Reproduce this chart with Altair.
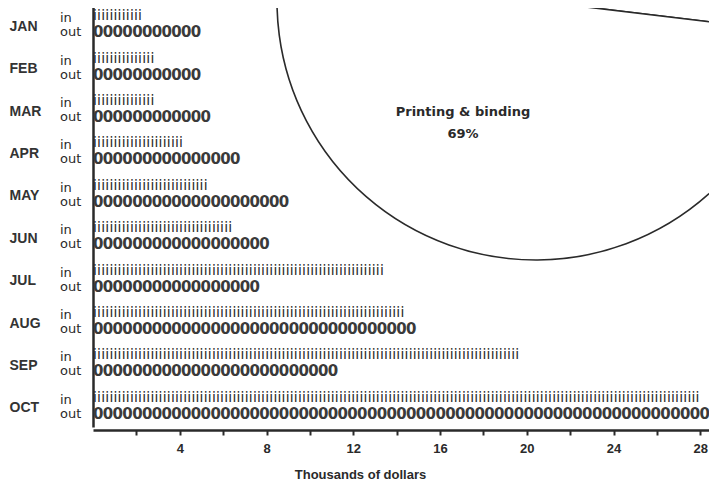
import altair as alt
import pandas as pd

# ---- data (thousands of dollars) ----
months = ["JAN", "FEB", "MAR", "APR", "MAY", "JUN", "JUL", "AUG", "SEP", "OCT"]
money_in = [2.3, 2.8, 2.8, 4.1, 5.2, 6.35, 13.4, 14.45, 19.65, 27.9]
money_out = [5.05, 5.0, 5.4, 6.8, 9.0, 8.15, 7.65, 14.85, 11.3, 29.0]
x_ticks = [2, 4, 6, 8, 10, 12, 14, 16, 18, 20, 22, 24, 26, 28]

# pie (only the lower part is visible in the picture)
slice_names = ["Segment A", "Segment B", "Segment C", "Segment D", "Printing & binding", "Segment E"]
slice_pct = [14, 11, 0.5, 1.4, 69, 4.1]
slice_fill = ["white", "white", "#1e1e1e", "white", "white", "white"]

INK = "#2a2a2a"
SANS = "Liberation Sans"

bars = pd.DataFrame({"month": months, "in": money_in, "out": money_out})
pie = pd.DataFrame({"segment": slice_names, "share": slice_pct,
                    "rank": list(range(len(slice_names)))})

x_scale = alt.Scale(domain=[0, 28.4], nice=False, zero=True)
y_scale = alt.Scale(domain=months, range=[-5, 419], paddingInner=0, paddingOuter=0)

x_axis = alt.Axis(values=x_ticks, labelExpr="datum.value % 4 == 0 ? datum.label : ''",
                  tickSize=5, tickWidth=2, tickColor=INK, domainColor=INK, domainWidth=2.5,
                  labelFont=SANS, labelFontWeight="bold", labelFontSize=13, labelColor=INK,
                  labelPadding=7, grid=False, title="Thousands of dollars",
                  titleFont=SANS, titleFontSize=13, titleFontWeight="bold", titleColor=INK,
                  titleX=267, titleY=48, titleAlign="center", titleBaseline="alphabetic")
y_axis = alt.Axis(title=None, ticks=False, tickSize=0, labelAlign="left", labelPadding=84,
                  labelOffset=2, labelFont=SANS, labelFontWeight="bold", labelFontSize=14,
                  labelColor="#333333", domainColor=INK, domainWidth=2.5, grid=False,
                  labelBaseline="middle")

Y = alt.Y("month:N", sort=months, scale=y_scale, axis=y_axis)


def glyphs(series, char, step, size, weight, dy, color):
    return alt.Chart(bars).transform_calculate(
        pos=f"sequence(0, datum['{series}'] - {step / 2}, {step})"
    ).transform_flatten(["pos"]).mark_text(
        text=char, align="left", baseline="middle", dy=dy, fontSize=size,
        font="DejaVu Sans", fontWeight=weight, color=color, clip=False
    ).encode(
        x=alt.X("pos:Q", scale=x_scale, axis=x_axis),
        y=Y,
    )


in_glyphs = glyphs("in", "i", 0.189, 14, "normal", -8, INK)
out_glyphs = glyphs("out", "0", 0.451, 15, "bold", 8, "#3a3a3a")


def row_label(word, dy):
    return alt.Chart(bars).mark_text(
        text=word, align="left", baseline="middle", dy=dy, fontSize=13,
        font="DejaVu Sans", color=INK
    ).encode(x=alt.value(-33), y=Y)


in_labels = row_label("in", -6)
out_labels = row_label("out", 8)

pie_layer = alt.Chart(pie).mark_arc(outerRadius=259, stroke=INK, strokeWidth=1.6).encode(
    theta=alt.Theta("share:Q", stack=True),
    order=alt.Order("rank:Q"),
    fill=alt.Fill("segment:N", scale=alt.Scale(domain=slice_names, range=slice_fill), legend=None),
    x=alt.value(443),
    y=alt.value(-7),
)

pie_label = alt.Chart(pie).transform_filter(
    "datum.segment == 'Printing & binding'"
).transform_calculate(
    label="datum.segment + '\\n' + datum.share + '%'"
).mark_text(
    align="center", baseline="middle", lineBreak="\n", lineHeight=22,
    font="DejaVu Sans", fontWeight="bold", fontSize=13, color=INK
).encode(text="label:N", x=alt.value(370), y=alt.value(104))

chart = alt.layer(
    pie_layer, pie_label, in_glyphs, out_glyphs, in_labels, out_labels
).properties(
    width=616, height=422,
    padding={"left": 85, "top": 0, "right": 0, "bottom": 52},
    autosize=alt.AutoSizeParams(type="none"),
    background="white",
).configure_view(stroke=None)

chart.save("out.html", embed_options={"renderer": "svg", "actions": False})
